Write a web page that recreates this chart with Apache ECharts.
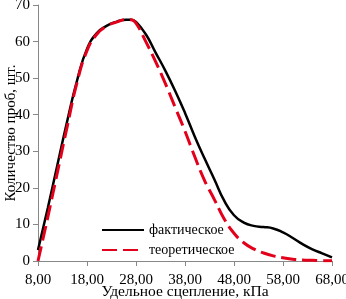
<!DOCTYPE html>
<html><head><meta charset="utf-8">
<script src="https://cdn.jsdelivr.net/npm/echarts@6/dist/echarts.min.js"></script>
<style>html,body{margin:0;padding:0;background:#fff}#c{width:346px;height:299px}</style>
</head><body><div id="c"></div>
<script>
var xValues = [8,10,12,14,16,18,20,22,24,26,27,28,30,32,34,36,38,40,42,44,46,48,50,52,54,56,58,60,62,64,66,68];
var actual = [3,14.5,26.5,38.5,49.5,58,62.3,64.3,65.4,66,66,65.4,62,57,52,46.5,40.5,34,28,22.3,16.5,12.5,10.5,9.6,9.3,8.9,7.8,6.3,4.6,3.2,2.1,1];
var theoretical = [0,12,24.5,37,49,57.5,62,64.2,65.3,66,66,65,60,54.5,48.5,42,35.5,28.5,22,16.8,11.5,7.6,5,3.3,2.2,1.4,0.9,0.5,0.3,0.2,0.1,0.1];
var seriesNames = ['фактическое','теоретическое'];
var xTitle = 'Удельное сцепление, кПа';
var yTitle = 'Количество проб, шт.';

function pairs(ys){ return xValues.map(function(x,i){ return [x, ys[i]]; }); }
var font = 'Liberation Serif';
var chart = echarts.init(document.getElementById('c'), null, {renderer:'canvas'});
chart.setOption({
  animation:false,
  textStyle:{fontFamily:font},
  grid:{left:38,right:14,top:5,bottom:38,containLabel:false,outerBoundsMode:'none'},
  legend:{
    orient:'vertical', left:96, top:218, itemWidth:42, itemHeight:12, itemGap:6,
    textStyle:{fontFamily:font, fontSize:14, color:'#000'},
    itemStyle:{opacity:0},
    data:seriesNames
  },
  xAxis:{
    type:'value', min:8, max:68, interval:10,
    name:xTitle, nameLocation:'middle', nameGap:23, nameMoveOverlap:false,
    nameTextStyle:{fontFamily:font, fontSize:15.5, color:'#000'},
    axisLine:{lineStyle:{color:'#888'}},
    axisTick:{show:true, length:5, lineStyle:{color:'#888'}},
    axisLabel:{fontFamily:font, fontSize:15, color:'#000', margin:12,
      formatter:function(v){return v.toFixed(2).replace('.',',');}},
    splitLine:{show:false}
  },
  yAxis:{
    type:'value', min:0, max:70, interval:10,
    name:yTitle, nameLocation:'middle', nameGap:19, nameRotate:90, nameMoveOverlap:false,
    nameTextStyle:{fontFamily:font, fontSize:15, color:'#000'},
    axisLine:{show:true, lineStyle:{color:'#888'}},
    axisTick:{show:true, length:5, lineStyle:{color:'#888'}},
    axisLabel:{fontFamily:font, fontSize:15, color:'#000', margin:8},
    splitLine:{show:false}
  },
  series:[
    {name:seriesNames[0], type:'line', data:pairs(actual), smooth:0.5, symbol:'none',
     lineStyle:{color:'#000', width:2.5}, itemStyle:{color:'#000'}, z:2},
    {name:seriesNames[1], type:'line', data:pairs(theoretical), smooth:0.5, symbol:'none',
     lineStyle:{color:'#e3001b', width:3, type:[15,6]}, itemStyle:{color:'#e3001b'}, z:3}
  ]
});
</script></body></html>
